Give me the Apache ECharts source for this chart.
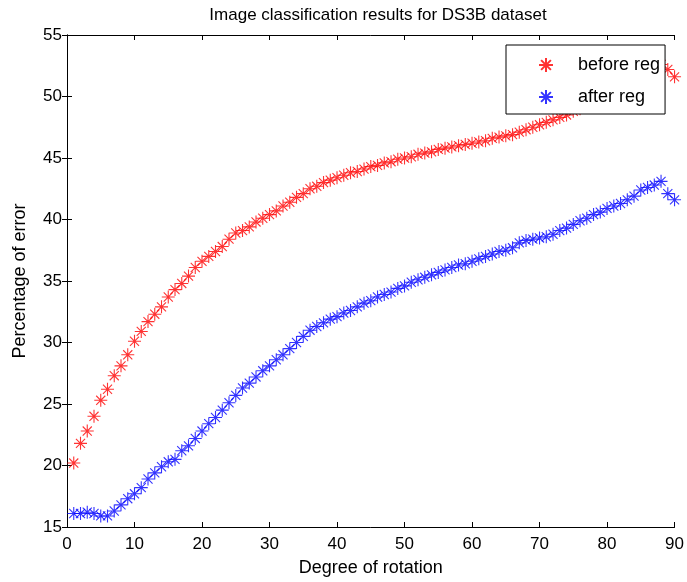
<!doctype html>
<html lang="en">
<head>
  <meta charset="UTF-8">
  <title>Image classification results for DS3B dataset</title>
  <style>
    * { margin: 0; padding: 0; box-sizing: border-box; }
    html, body { width: 100%; height: 100%; background: #ffffff; }
    #main { width: 687px; height: 582px; }
  </style>
</head>
<body>
  <div id="main"></div>
  <script src="https://cdn.jsdelivr.net/npm/echarts@6/dist/echarts.min.js"></script>
  <script>
    // degree of rotation
    let degrees = [
      1, 2, 3, 4, 5, 6, 7, 8, 9, 10,
      11, 12, 13, 14, 15, 16, 17, 18, 19, 20,
      21, 22, 23, 24, 25, 26, 27, 28, 29, 30,
      31, 32, 33, 34, 35, 36, 37, 38, 39, 40,
      41, 42, 43, 44, 45, 46, 47, 48, 49, 50,
      51, 52, 53, 54, 55, 56, 57, 58, 59, 60,
      61, 62, 63, 64, 65, 66, 67, 68, 69, 70,
      71, 72, 73, 74, 75, 76, 77, 78, 79, 80,
      81, 82, 83, 84, 85, 86, 87, 88, 89, 90
    ]
    // percentage of error before registration
    let beforeReg = [
      20.2, 21.8, 22.8, 24.0, 25.3, 26.2, 27.3, 28.1, 29.0, 30.1,
      30.9, 31.7, 32.3, 32.9, 33.7, 34.3, 34.8, 35.4, 36.1, 36.6,
      37.0, 37.4, 37.8, 38.4, 38.9, 39.1, 39.4, 39.8, 40.1, 40.4,
      40.7, 41.1, 41.4, 41.8, 42.1, 42.5, 42.7, 43.0, 43.2, 43.4,
      43.6, 43.8, 43.9, 44.1, 44.3, 44.4, 44.6, 44.7, 44.9, 45.0,
      45.1, 45.3, 45.4, 45.5, 45.7, 45.8, 45.9, 46.0, 46.1, 46.2,
      46.3, 46.4, 46.6, 46.7, 46.8, 46.9, 47.1, 47.3, 47.5, 47.7,
      47.9, 48.1, 48.3, 48.5, 48.8, 49.0, 49.2, 49.4, 49.6, 49.8,
      50.1, 50.4, 50.7, 51.0, 51.4, 51.8, 52.2, 52.6, 52.2, 51.6
    ]
    // percentage of error after registration
    let afterReg = [
      16.1, 16.1, 16.2, 16.1, 15.9, 15.9, 16.3, 16.8, 17.3, 17.7,
      18.2, 18.9, 19.4, 19.9, 20.3, 20.5, 21.2, 21.6, 22.2, 22.8,
      23.4, 23.9, 24.5, 25.1, 25.7, 26.3, 26.7, 27.2, 27.7, 28.1,
      28.6, 29.0, 29.5, 30.0, 30.5, 31.0, 31.3, 31.6, 31.9, 32.1,
      32.4, 32.6, 32.9, 33.2, 33.4, 33.7, 33.9, 34.1, 34.4, 34.6,
      34.9, 35.1, 35.3, 35.5, 35.7, 35.9, 36.1, 36.3, 36.4, 36.6,
      36.8, 37.0, 37.2, 37.4, 37.5, 37.7, 38.1, 38.3, 38.4, 38.5,
      38.6, 38.8, 39.1, 39.3, 39.6, 39.9, 40.1, 40.4, 40.6, 40.9,
      41.1, 41.3, 41.6, 41.9, 42.4, 42.6, 42.8, 43.1, 42.1, 41.6
    ]

    let font = 'Liberation Sans, Arial, sans-serif'
    let star = 'path://M5 0L5 10M0 5L10 5M1.5 1.5L8.5 8.5M1.5 8.5L8.5 1.5'

    function pairs(xs, ys) {
      return xs.map(function (x, i) { return [x, ys[i]] })
    }

    function makeSeries(name, values, color) {
      return {
        name: name,
        type: 'scatter',
        clip: false,
        symbol: star,
        symbolSize: 13,
        itemStyle: {
          color: 'rgba(0,0,0,0)',
          borderColor: color,
          borderWidth: 1.1
        },
        emphasis: { disabled: true },
        data: pairs(degrees, values)
      }
    }

    let frameAxis = {
      axisLine: { show: true, lineStyle: { color: '#000', width: 1 } },
      axisTick: { show: true, inside: true, length: 5, lineStyle: { color: '#000' } },
      splitLine: { show: false }
    }

    let myChart = echarts.init(document.getElementById('main'))
    let option = {
      backgroundColor: '#ffffff',
      animation: false,
      title: {
        text: 'Image classification results for DS3B dataset',
        left: 373,
        textAlign: 'center',
        top: 2,
        textStyle: { fontFamily: font, fontSize: 17, fontWeight: 'normal', color: '#000' }
      },
      grid: { left: 67, right: 11, top: 35, bottom: 55 },
      legend: {
        orient: 'vertical',
        left: 506,
        top: 45,
        padding: [11, 5, 8, 32],
        itemGap: 14,
        itemWidth: 14,
        itemHeight: 14,
        backgroundColor: '#ffffff',
        borderColor: '#000',
        borderWidth: 1,
        textStyle: { fontFamily: font, fontSize: 18, color: '#000', padding: [0, 0, 0, 20] },
        data: ['before reg', 'after reg']
      },
      xAxis: [
        Object.assign({
          type: 'value', min: 0, max: 90, interval: 10, position: 'bottom',
          name: 'Degree of rotation', nameLocation: 'middle', nameGap: 32,
          nameTextStyle: { fontFamily: font, fontSize: 18, color: '#000' },
          axisLabel: { fontFamily: font, fontSize: 17, color: '#000', margin: 9 }
        }, frameAxis),
        Object.assign({
          type: 'value', min: 0, max: 90, interval: 10, position: 'top',
          axisLabel: { show: false }
        }, frameAxis)
      ],
      yAxis: [
        Object.assign({
          type: 'value', min: 15, max: 55, interval: 5, position: 'left',
          name: 'Percentage of error', nameLocation: 'middle', nameGap: 38,
          nameTextStyle: { fontFamily: font, fontSize: 18, color: '#000' },
          axisLabel: { fontFamily: font, fontSize: 17, color: '#000', margin: 5 }
        }, frameAxis),
        Object.assign({
          type: 'value', min: 15, max: 55, interval: 5, position: 'right',
          axisLabel: { show: false }
        }, frameAxis)
      ],
      series: [
        makeSeries('before reg', beforeReg, '#ff0000'),
        makeSeries('after reg', afterReg, '#0000ff')
      ]
    }
    myChart.setOption(option)
  </script>
</body>
</html>
